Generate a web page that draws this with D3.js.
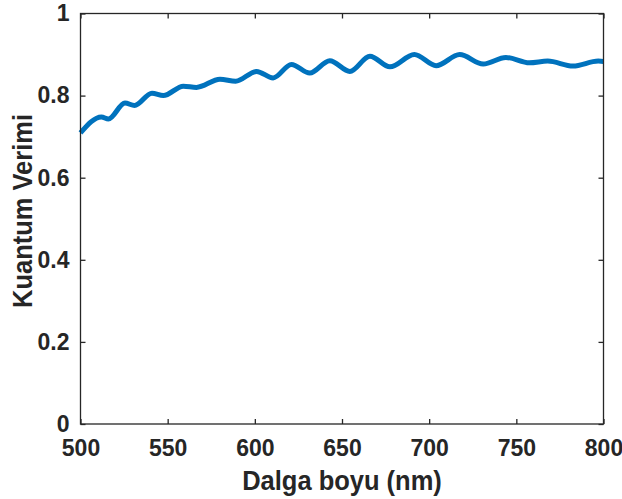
<!DOCTYPE html>
<html>
<head>
<meta charset="utf-8">
<script src="https://cdn.jsdelivr.net/npm/d3@7"></script>
<style>
  html, body { margin: 0; padding: 0; background: #fff; }
  svg { display: block; }
  text { font-family: "Liberation Sans", Arial, sans-serif; font-weight: bold; fill: #262626; }
</style>
</head>
<body>
<svg id="chart" width="622" height="499"></svg>
<script>
// Wavelength (nm) and quantum efficiency samples
const wavelength = [500, 512, 516, 525.5, 531, 541, 547.5, 559, 566.5, 580, 589, 601, 610.5, 621, 631.5,
  643, 654.5, 666, 677.5, 691.5, 704, 717.5, 731, 744, 757.5, 768, 782.5, 797, 800];
const efficiency = [0.709, 0.748, 0.743, 0.782, 0.776, 0.806, 0.800, 0.823, 0.820, 0.840, 0.835, 0.859, 0.843,
  0.876, 0.855, 0.885, 0.859, 0.896, 0.870, 0.900, 0.873, 0.900, 0.877, 0.893, 0.880, 0.884, 0.872, 0.884, 0.883];
const xTicks = [500, 550, 600, 650, 700, 750, 800];
const yTicks = [0, 0.2, 0.4, 0.6, 0.8, 1];
const xLabel = "Dalga boyu (nm)";
const yLabel = "Kuantum Verimi";

const svg = d3.select("#chart");
const plotLeft = 80.5, plotRight = 603.5, plotTop = 13.5, plotBottom = 424;
const axisColor = "#262626";

const x = d3.scaleLinear().domain([500, 800]).range([plotLeft, plotRight]);
const y = d3.scaleLinear().domain([0, 1]).range([plotBottom, plotTop]);

const fmtY = d => d === 0 ? "0" : d === 1 ? "1" : d3.format(".1f")(d);

// Bottom and left axes with inward ticks
const gx = svg.append("g").attr("transform", `translate(0,${plotBottom})`)
  .call(d3.axisBottom(x).tickValues(xTicks).tickSizeInner(-5).tickSizeOuter(0).tickPadding(16));
const gy = svg.append("g").attr("transform", `translate(${plotLeft},0)`)
  .call(d3.axisLeft(y).tickValues(yTicks).tickFormat(fmtY).tickSizeInner(-5).tickSizeOuter(0).tickPadding(11));
// Mirrored ticks on top and right
const gt = svg.append("g").attr("transform", `translate(0,${plotTop})`)
  .call(d3.axisTop(x).tickValues(xTicks).tickSizeInner(-5).tickSizeOuter(0).tickFormat(""));
const gr = svg.append("g").attr("transform", `translate(${plotRight},0)`)
  .call(d3.axisRight(y).tickValues(yTicks).tickSizeInner(-5).tickSizeOuter(0).tickFormat(""));

[gx, gy, gt, gr].forEach(g => {
  g.select(".domain").remove();
  g.selectAll(".tick line").attr("stroke", axisColor).attr("stroke-width", 1.3);
  g.selectAll("text").attr("font-size", 23).attr("font-family", "Liberation Sans, Arial, sans-serif")
    .attr("font-weight", "bold").attr("fill", axisColor);
});
gx.selectAll("text").attr("dy", "0.71em");

// Data curve
const line = d3.line()
  .x((d, i) => x(wavelength[i]))
  .y(d => y(d))
  .curve(d3.curveMonotoneX);
svg.append("path")
  .datum(efficiency)
  .attr("d", line)
  .attr("fill", "none")
  .attr("stroke", "#0072BD")
  .attr("stroke-width", 5)
  .attr("stroke-linejoin", "round")
  .attr("stroke-linecap", "butt");

// Axes box
svg.append("rect")
  .attr("x", plotLeft).attr("y", plotTop)
  .attr("width", plotRight - plotLeft).attr("height", plotBottom - plotTop)
  .attr("fill", "none").attr("stroke", axisColor).attr("stroke-width", 1.3);

// Axis titles
svg.append("text")
  .attr("transform", `translate(${(plotLeft + plotRight) / 2},489.5) scale(1,1.05)`)
  .attr("text-anchor", "middle").attr("font-size", 25.5)
  .text(xLabel);
svg.append("text")
  .attr("transform", `translate(31.5,211) rotate(-90) scale(1,1.05)`)
  .attr("text-anchor", "middle").attr("font-size", 25.5)
  .text(yLabel);
</script>
</body>
</html>
